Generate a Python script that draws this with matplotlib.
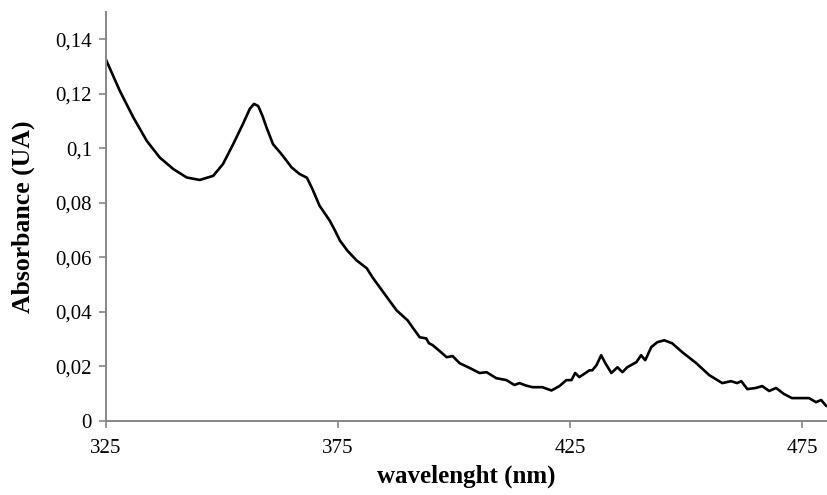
import matplotlib.pyplot as plt
from matplotlib.ticker import FuncFormatter

# absorption spectrum, read at irregular wavelengths
wavelength = [325.0, 328.0, 330.9, 333.8, 336.6, 339.5, 342.4, 345.2, 348.1, 350.2,
              352.4, 354.5, 356.0, 356.9, 357.8, 358.7, 359.6, 361.0, 362.8, 365.0,
              366.7, 368.3, 369.5, 371.0, 372.0, 373.2, 374.3, 375.4, 377.0,
              379.0, 381.2, 382.5, 384.0, 385.8, 387.6, 390.0, 391.2, 392.6, 394.0,
              394.6, 395.4, 396.8, 398.4, 399.7, 401.2, 403.3, 405.5, 407.0, 409.1,
              411.3, 413.0, 414.1, 415.5, 416.9, 419.0, 421.0, 422.7, 424.2, 425.3,
              426.1, 427.0, 429.2, 429.8, 430.7, 431.7, 432.6, 433.9, 435.2, 436.3,
              437.3, 439.3, 440.3, 441.2, 442.5, 443.8, 445.3, 447.0, 449.2, 450.7,
              452.2, 455.0, 457.8, 459.7, 461.0, 461.9, 463.2, 465.0, 466.4, 467.9,
              469.4, 471.0, 472.8, 475.0, 476.5, 478.0, 479.1, 480.2]
absorbance = [0.1325, 0.1210, 0.1113, 0.1027, 0.0966, 0.0924, 0.0893, 0.0884, 0.0899, 0.0942,
              0.1015, 0.1089, 0.1145, 0.1163, 0.1155, 0.1120, 0.1076, 0.1015, 0.0979, 0.0930,
              0.0906, 0.0892, 0.0850, 0.0790, 0.0765, 0.0735, 0.0700, 0.0662, 0.0625,
              0.0589, 0.0560, 0.0525, 0.0490, 0.0448, 0.0406, 0.0369, 0.0340, 0.0307, 0.0303,
              0.0285, 0.0278, 0.0258, 0.0234, 0.0238, 0.0212, 0.0195, 0.0176, 0.0179, 0.0157,
              0.0150, 0.0132, 0.0139, 0.0130, 0.0124, 0.0124, 0.0112, 0.0128, 0.0150, 0.0150,
              0.0176, 0.0161, 0.0186, 0.0186, 0.0205, 0.0241, 0.0212, 0.0176, 0.0197, 0.0179,
              0.0197, 0.0216, 0.0241, 0.0223, 0.0271, 0.0289, 0.0296, 0.0285, 0.0252, 0.0232,
              0.0212, 0.0168, 0.0139, 0.0146, 0.0139, 0.0146, 0.0117, 0.0121, 0.0128, 0.0110,
              0.0121, 0.0100, 0.0084, 0.0084, 0.0084, 0.0069, 0.0077, 0.0055]

x_ticks = [325, 375, 425, 475]
y_ticks = [0, 0.02, 0.04, 0.06, 0.08, 0.1, 0.12, 0.14]

plt.rcParams['font.family'] = 'Liberation Serif'

fig = plt.figure(figsize=(8.28, 4.95), dpi=100)
ax = fig.add_axes([0.128, 0.1495, 0.871, 0.8263])

ax.plot(wavelength, absorbance, color='black', lw=1.9,
        solid_joinstyle='round', solid_capstyle='round')

ax.set_xlim(325, 480.4)
ax.set_ylim(0, 0.15)
ax.set_xticks(x_ticks)
ax.set_yticks(y_ticks)
ax.yaxis.set_major_formatter(FuncFormatter(lambda v, p: f"{v:g}".replace('.', ',')))

axis_grey = '#868686'
for side in ['top', 'right']:
    ax.spines[side].set_visible(False)
for side in ['left', 'bottom']:
    ax.spines[side].set_color(axis_grey)
    ax.spines[side].set_linewidth(1.4)
ax.tick_params(axis='both', direction='out', length=5, width=1.2,
               color=axis_grey, labelsize=15, labelcolor='black')
ax.tick_params(axis='x', pad=8)
ax.tick_params(axis='y', pad=5)

ax.set_xlabel('wavelenght (nm)', fontsize=18, fontweight='bold', labelpad=5)
ax.set_ylabel('Absorbance (UA)', fontsize=18.5, fontweight='bold', labelpad=15)

fig.savefig('out.png', dpi=100)
